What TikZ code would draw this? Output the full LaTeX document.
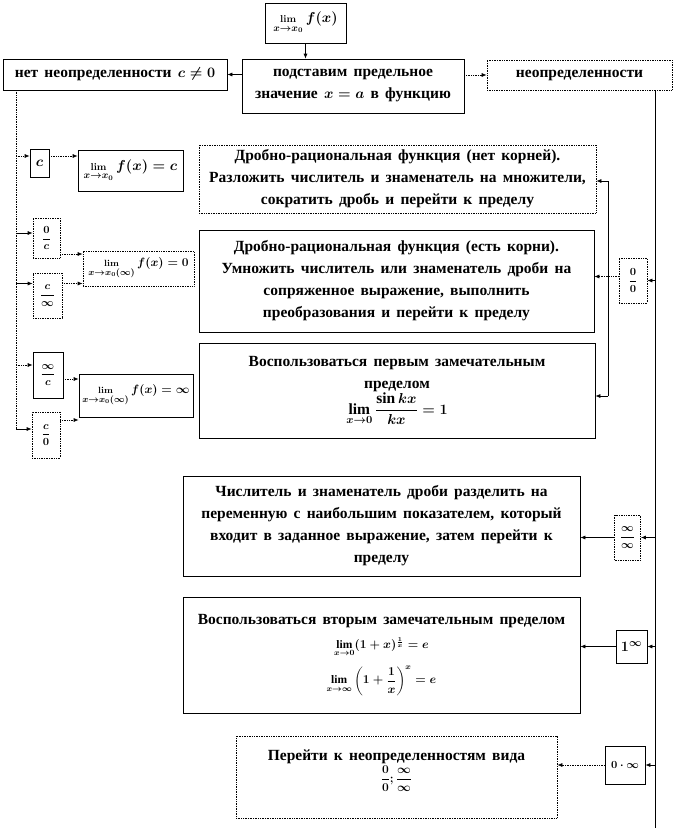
\documentclass[tikz,border=0pt]{standalone}
\usepackage{amsmath}
\usepackage{fontspec}
\setmainfont{Liberation Serif}
\usetikzlibrary{arrows.meta}
\newcommand\widesp{\spaceskip=0.4em plus 0.1em\relax}
\newcommand\smlim{\mathop{\scriptstyle\mathbf{lim}}\limits}

\begin{document}
\begin{tikzpicture}[x=1pt,y=-1pt,line width=0.7pt,
  box/.style={draw,align=center,inner sep=1pt,font={\bfseries\boldmath\fontsize{15.5}{22}\selectfont\widesp}},
  dbox/.style={box,densely dotted},
  fbox/.style={box,font=\bfseries\boldmath\fontsize{11}{13}\selectfont},
  dfbox/.style={fbox,densely dotted},
  lbox/.style={box,font=\bfseries\boldmath\fontsize{14.5}{15}\selectfont},
  sbox/.style={box,font=\bfseries\boldmath\fontsize{13}{15}\selectfont},
  dsbox/.style={sbox,densely dotted},
  sz/.style 2 args={minimum width=#1pt,minimum height=#2pt},
  arr/.style={-{Latex[length=5pt,width=4pt]}},
  darr/.style={arr,densely dotted}]
  \useasboundingbox (0,0) rectangle (679,828);
  % top row
  \node[lbox,sz={81}{40}] (top) at (305.5,23) {$\smlim_{x\to x_0} f(x)$};
  \node[box,sz={222}{54}] (mid) at (353,86) {подставим  предельное\\значение  $x=a$ в функцию};
  \node[box,sz={224}{31}] (nn) at (115,74.5) {нет неопределенности  $c\neq0$};
  \node[dbox,sz={185}{30}] (nd) at (579.5,75) {неопределенности};
  \draw[arr] (top.south) -- (top.south |- mid.north);
  \draw[arr] (mid.west |- nn.east) -- (nn.east);
  \draw[darr] (mid.east |- nd.west) -- (nd.west);
  % left branch
  \node[box,sz={19}{28}] (cb) at (39.5,163) {$c$};
  \node[dfbox,sz={27}{40}] (zc) at (46.5,238) {$\dfrac{0}{c}$};
  \node[dfbox,sz={29}{45}] (cinf) at (47.5,295.5) {$\dfrac{c}{\infty}$};
  \node[fbox,sz={30}{46}] (infc) at (48,375) {$\dfrac{\infty}{c}$};
  \node[dfbox,sz={28}{46}] (cz) at (46,435) {$\dfrac{c}{0}$};
  \node[lbox,sz={105}{41}] (limc) at (130.5,170.5) {$\smlim_{x\to x_0} f(x)=c$};
  \node[dsbox,sz={111}{35}] (lim0) at (138.5,268.5) {$\smlim_{x\to x_0(\infty)} f(x)=0$};
  \node[sbox,sz={114}{43}] (liminf) at (136,395.5) {$\smlim_{x\to x_0(\infty)} f(x)=\infty$};
  \coordinate (ls) at (16,90);
  \coordinate (le) at (16,429);
  \draw[densely dotted] (ls) -- (le);
  \draw[darr] ([yshift=7pt]cb.west -| ls) -- ([yshift=7pt]cb.west);
  \draw[arr] ([yshift=5pt]zc.west -| ls) -- ([yshift=5pt]zc.west);
  \draw[arr] ([yshift=12pt]cinf.west -| ls) -- ([yshift=12pt]cinf.west);
  \draw[darr] ([yshift=10pt]infc.west -| ls) -- ([yshift=10pt]infc.west);
  \draw[arr] (le) -- (le -| cz.west);
  \draw[darr] ([yshift=7pt]cb.east) -- ([yshift=7pt]cb.east -| limc.west);
  \draw[darr] ([yshift=-16pt]zc.east) -- ([yshift=-16pt]zc.east -| lim0.west);
  \draw[darr] ([yshift=12pt]cinf.east) -- ([yshift=12pt]cinf.east -| lim0.west);
  \draw[darr] ([yshift=-4pt]infc.east) -- ([yshift=-4pt]infc.east -| liminf.west);
  \draw[darr] ([yshift=15pt]cz.east) -- ([yshift=15pt]cz.east -| liminf.west);
  % method boxes
  \node[dbox,sz={397}{68}] (b1) at (397.5,179) {Дробно-рациональная  функция  (нет корней).\\Разложить числитель  и знаменатель на множители,\\сократить  дробь  и перейти  к пределу};
  \node[box,sz={395}{102}] (b2) at (396.5,281) {Дробно-рациональная  функция  (есть корни).\\Умножить  числитель  или  знаменатель  дроби  на\\сопряженное  выражение,  выполнить\\преобразования  и перейти  к пределу};
  \node[box,sz={396}{95}] (b3) at (397,390.5) {Воспользоваться  первым  замечательным\\пределом\\$\lim\limits_{x\to0}\dfrac{\sin kx}{kx}=1$};
  \node[box,sz={397}{100}] (b4) at (381.5,526) {Числитель  и знаменатель  дроби  разделить на\\переменную  с наибольшим  показателем,  который\\входит  в заданное  выражение,  затем перейти  к\\пределу};
  \node[box,sz={397}{116}] (b5) at (381.5,655) {Воспользоваться  вторым  замечательным  пределом\\[2pt]{\fontsize{11.5}{13}\selectfont$\lim\limits_{x\to0}(1+x)^{\frac{1}{x}}=e$}\\[8pt]{\fontsize{11.5}{13}\selectfont$\lim\limits_{x\to\infty}\left(1+\dfrac{1}{x}\right)^{x}=e$}};
  \node[dbox,sz={321}{82},text depth=22pt] (b6) at (396.5,777) {Перейти  к неопределенностям  вида\\{\fontsize{11.5}{13}\selectfont$\dfrac{0}{0};\dfrac{\infty}{\infty}$}};
  % right branch
  \node[dfbox,sz={28}{45}] (zz) at (633,280.5) {$\dfrac{0}{0}$};
  \node[dfbox,sz={26}{45}] (ii) at (627.5,537.5) {$\dfrac{\infty}{\infty}$};
  \node[box,sz={31}{33}] (oi) at (631.5,646.5) {$1^{\infty}$};
  \node[fbox,sz={40}{38}] (zi) at (625,765) {$0\cdot\infty$};
  \coordinate (rs) at (655,90);
  \coordinate (re) at (655,828);
  \draw (rs) -- (re);
  \draw[arr] (rs |- zz.east) -- (zz.east);
  \draw[arr] (rs |- ii.east) -- (ii.east);
  \draw[arr] (rs |- oi.east) -- (oi.east);
  \draw[arr] (rs |- zi.east) -- (zi.east);
  \coordinate (vs) at (608,181);
  \coordinate (ve) at (608,396);
  \draw (vs) -- (ve);
  \draw[densely dotted] ([yshift=4pt]zz.west) -- ([yshift=4pt]zz.west -| vs);
  \draw[arr] (vs) -- (vs -| b1.east);
  \draw[darr] ([yshift=4pt]zz.west -| vs) -- ([yshift=4pt]zz.west -| b2.east);
  \draw[arr] (ve) -- (ve -| b3.east);
  \draw[arr] (ii.west) -- (ii.west -| b4.east);
  \draw[arr] (oi.west) -- (oi.west -| b5.east);
  \draw[darr] (zi.west) -- (zi.west -| b6.east);
\end{tikzpicture}
\end{document}
